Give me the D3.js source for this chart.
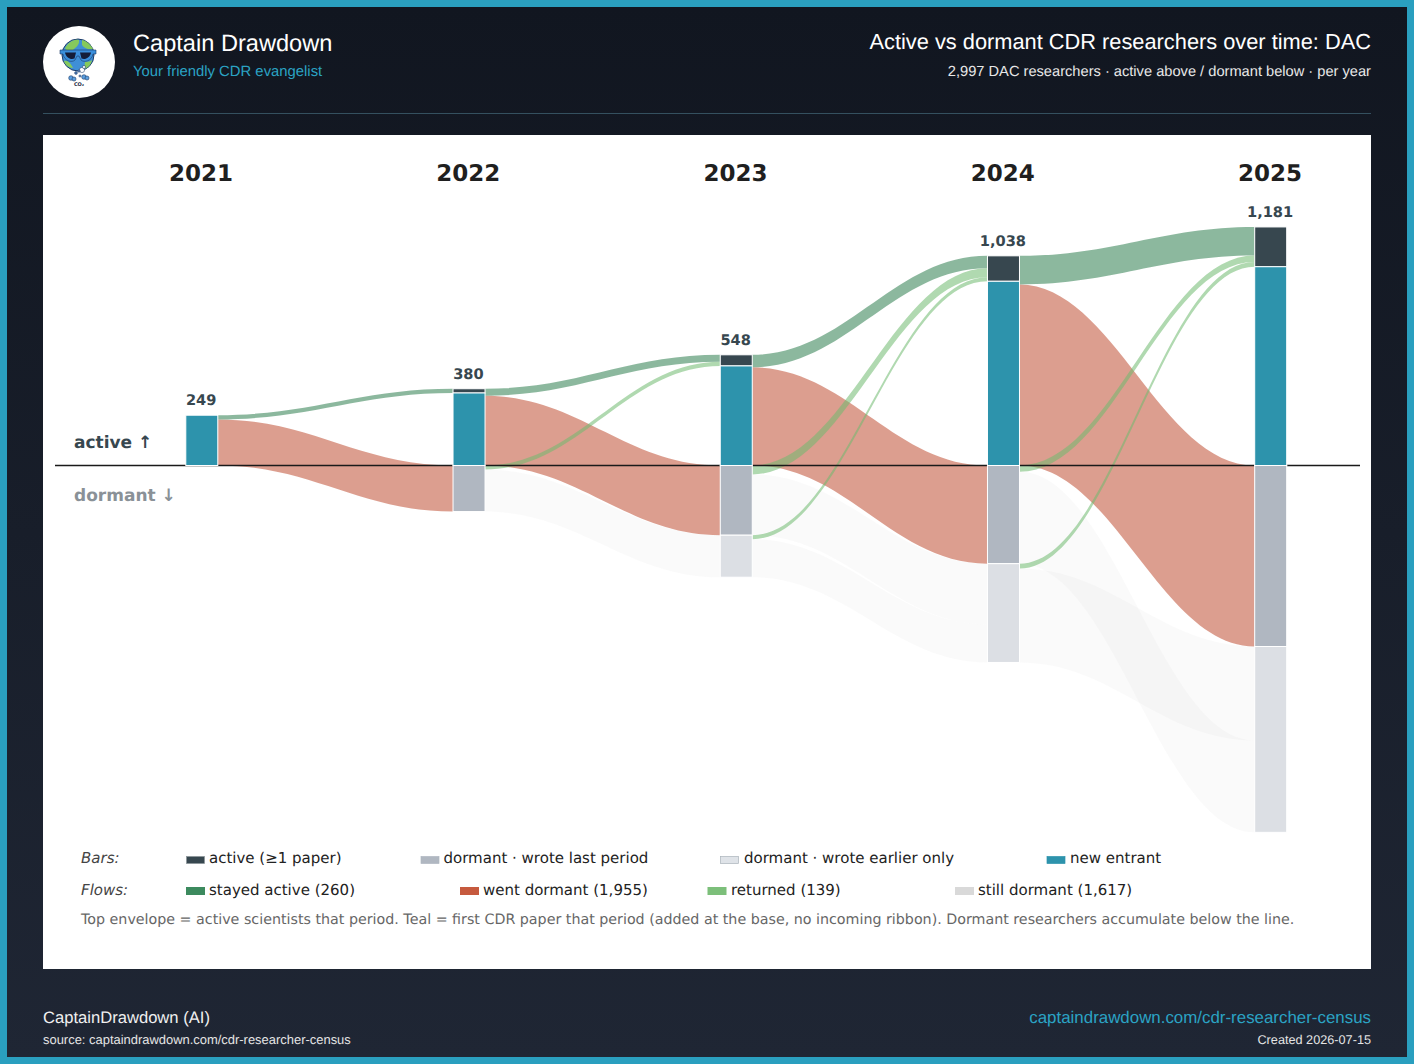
<!DOCTYPE html>
<html>
<head>
<meta charset="utf-8">
<title>Active vs dormant CDR researchers over time: DAC</title>
<script src="https://cdn.jsdelivr.net/npm/d3@7"></script>
<style>
  html, body { margin: 0; padding: 0; background: #1f2533; }
  svg { display: block; }
  text { text-rendering: geometricPrecision; }
  .hd { font-family: "Liberation Sans", Arial, sans-serif; }
  .ch { font-family: "DejaVu Sans", sans-serif; }
</style>
</head>
<body>
<svg id="chart" width="1414" height="1064"></svg>
<script>
// Researcher counts per year
const years = ["2021", "2022", "2023", "2024", "2025"];
const newEntrants = [249, 359, 493, 912, 984];
const activeTotals = [249, 380, 548, 1038, 1181];
const dormantLast = [0, 228, 345, 486, 896];
const dormantEarlier = [0, 0, 208, 489, 920];

// Flows between consecutive years (index 0 = 2021 to 2022)
const stayedActive = [21, 35, 62, 142];
const wentDormant = [228, 345, 486, 896];
const returnedFromLast = [0, 20, 44, 31];
const returnedFromEarlier = [0, 0, 20, 24];
const stillFromLast = [0, 208, 301, 455];
const stillFromEarlier = [0, 0, 188, 465];
// 2024 to 2025 cohorts swap places in the stack; earlier years keep their order
const earlierFirst = [false, false, false, true];

const colors = {
  active: "#37474f", fresh: "#2d93ac", last: "#b0b7c1", earlier: "#dcdfe4",
  stayed: "#2e7d4f", dormant: "#bf4f33", returned: "#70b96f", still: "#c8c8c8"
};

const barLegend = [
  { label: "active (≥1 paper)", fill: "#37474f", stroke: "#8a9499", sx: 186, tx: 209 },
  { label: "dormant · wrote last period", fill: "#b0b7c1", stroke: "#b0b7c1", sx: 420.5, tx: 443.5 },
  { label: "dormant · wrote earlier only", fill: "#dfe3e8", stroke: "#aab2ba", sx: 720, tx: 744 },
  { label: "new entrant", fill: "#2d93ac", stroke: "#2d93ac", sx: 1046.5, tx: 1070 }
];
const flowLegend = [
  { label: "stayed active (260)", fill: "#3c8a5e", sx: 186, tx: 209 },
  { label: "went dormant (1,955)", fill: "#c65a3e", sx: 460, tx: 483 },
  { label: "returned (139)", fill: "#7cbf7a", sx: 707.5, tx: 731 },
  { label: "still dormant (1,617)", fill: "#d9d9d9", sx: 955, tx: 978 }
];

const svg = d3.select("#chart");
const defs = svg.append("defs");
const grad = defs.append("linearGradient").attr("id", "page").attr("x1", 0).attr("y1", 0).attr("x2", 0).attr("y2", 1);
grad.append("stop").attr("offset", 0).attr("stop-color", "#111620");
grad.append("stop").attr("offset", 1).attr("stop-color", "#1f2634");

// Page frame and white plotting card
svg.append("rect").attr("width", 1414).attr("height", 1064).attr("fill", "#2a9fbf");
svg.append("rect").attr("x", 7).attr("y", 7).attr("width", 1400).attr("height", 1050).attr("fill", "url(#page)");
svg.append("rect").attr("x", 43).attr("y", 135).attr("width", 1328).attr("height", 834).attr("fill", "#fff");
svg.append("line").attr("x1", 43).attr("x2", 1371).attr("y1", 113.5).attr("y2", 113.5)
  .attr("stroke", "#34505f").attr("stroke-width", 1);

// Logo: globe with sunglasses above a small CO2 puff
const logo = svg.append("g").attr("transform", "translate(79,62)");
logo.append("circle").attr("r", 36).attr("fill", "#fff");
logo.append("circle").attr("cx", -1).attr("cy", -7).attr("r", 16).attr("fill", "#3f8fd6").attr("stroke", "#1c3a66").attr("stroke-width", 1);
logo.append("path").attr("fill", "#86c95c")
  .attr("d", "M-14,-14 C-10,-21 -4,-23 0,-22 C1,-17 -4,-14 -6,-12 C-9,-11 -13,-11 -14,-14 Z M3,-22 C8,-21 12,-17 14,-13 C9,-12 5,-14 3,-17 Z M-15,-1 C-11,-2 -8,2 -6,6 C-10,6 -14,3 -15,-1 Z M6,0 C9,0 12,-1 13,-2 C12,3 9,6 5,7 Z");
logo.append("path").attr("fill", "#3a8fdc").attr("stroke", "#1c3a66").attr("stroke-width", 0.6)
  .attr("d", "M-19,-12 L17,-12 L17,-8 L14,-8 C13,-1 5,1 2,-2 L0,-6 L-2,-6 L-4,-2 C-7,1 -15,-1 -16,-8 L-19,-8 Z");
logo.append("path").attr("fill", "#141d38")
  .attr("d", "M-14,-9.5 L-3,-9.5 L-4.5,-3.5 C-8,-2 -13,-4 -14,-9.5 Z M1,-9.5 L12,-9.5 C11,-4 6,-2 2.5,-3.5 Z");
const rocket = [[3, 8, 2.6, "#fff"], [5, 5, 1.6, "#e8eef5"], [0, 9, 1.2, "#6f93c4"], [-3, 11, 1.4, "#4a78b0"], [1, 14, 1.1, "#6f93c4"]];
logo.selectAll("circle.trail").data(rocket).join("circle").attr("class", "trail")
  .attr("cx", d => d[0]).attr("cy", d => d[1]).attr("r", d => d[2])
  .attr("fill", d => d[3]).attr("stroke", "#1c3a66").attr("stroke-width", 0.5);
const puffs = [[-8, 16, 2.3], [-5, 17, 2], [5, 15, 2.3], [8, 16, 2]];
logo.selectAll("circle.puff").data(puffs).join("circle").attr("class", "puff")
  .attr("cx", d => d[0]).attr("cy", d => d[1]).attr("r", d => d[2])
  .attr("fill", "#5b9fe0").attr("stroke", "#1c3a66").attr("stroke-width", 0.6);
logo.append("text").attr("class", "ch").attr("y", 24).attr("text-anchor", "middle")
  .attr("font-size", 5).attr("font-weight", 700).attr("fill", "#1c2a44").text("CO₂");

// Header and footer text
function label(cls, x, y, size, fill, anchor, str) {
  return svg.append("text").attr("class", cls).attr("x", x).attr("y", y)
    .attr("font-size", size).attr("fill", fill).attr("text-anchor", anchor).text(str);
}
label("hd", 133, 50.5, 23.6, "#fff", "start", "Captain Drawdown");
label("hd", 133, 76, 14.85, "#2ba3c4", "start", "Your friendly CDR evangelist");
label("hd", 1371, 48.5, 21.8, "#fff", "end", "Active vs dormant CDR researchers over time: DAC");
label("hd", 1371, 76, 14.65, "#e8e8e8", "end", "2,997 DAC researchers · active above / dormant below · per year");
label("hd", 43, 1023, 16.6, "#f0f0f0", "start", "CaptainDrawdown (AI)");
label("hd", 43, 1044, 12.95, "#e4e4e4", "start", "source: captaindrawdown.com/cdr-researcher-census");
label("hd", 1371, 1023, 16.9, "#2ba3c4", "end", "captaindrawdown.com/cdr-researcher-census");
label("hd", 1371, 1044, 12.7, "#e4e4e4", "end", "Created 2026-07-15");

// Scales: counts run up from the zero line for active, down for dormant
const x = d3.scalePoint().domain(years).range([201.8, 1270.7]);
const pxPerPerson = 0.202;
const zeroY = 465.5;
const y = d3.scaleLinear().domain([0, 1181]).range([zeroY, zeroY - 1181 * pxPerPerson]);
const barW = 32;
const bend = 0.4;

// Vertical extents of each bar segment
const stacks = years.map((yr, i) => ({
  yr, i,
  active: [activeTotals[i], newEntrants[i]],
  fresh: [newEntrants[i], 0],
  last: [0, -dormantLast[i]],
  earlier: [-dormantLast[i], -dormantLast[i] - dormantEarlier[i]]
}));

// Ribbon with horizontal tangents at both ends
function ribbon(i, s0, s1, t0, t1) {
  const a = x(years[i]) + barW / 2, b = x(years[i + 1]) - barW / 2;
  const c1 = a + (b - a) * bend, c2 = b - (b - a) * bend;
  const p = d3.path();
  p.moveTo(a, y(s0));
  p.bezierCurveTo(c1, y(s0), c2, y(t0), b, y(t0));
  p.lineTo(b, y(t1));
  p.bezierCurveTo(c2, y(t1), c1, y(s1), a, y(s1));
  p.closePath();
  return p.toString();
}

const flows = { still: [], dormant: [], stayed: [], returned: [] };
years.slice(0, -1).forEach((_, i) => {
  const top = activeTotals[i];
  const nextTop = activeTotals[i + 1];
  const j = i + 1;

  // Active in year i, active again next year
  flows.stayed.push(ribbon(i, top, top - stayedActive[i], nextTop, nextTop - stayedActive[i]));

  // Active in year i, gone quiet next year
  flows.dormant.push(ribbon(i, top - stayedActive[i], top - stayedActive[i] - wentDormant[i], 0, -wentDormant[i]));

  // Dormant cohorts coming back into the active block
  let tgt = nextTop - stayedActive[i];
  if (returnedFromLast[i] > 0) {
    flows.returned.push(ribbon(i, 0, -returnedFromLast[i], tgt, tgt - returnedFromLast[i]));
    tgt -= returnedFromLast[i];
  }
  if (returnedFromEarlier[i] > 0) {
    const s = -dormantLast[i];
    flows.returned.push(ribbon(i, s, s - returnedFromEarlier[i], tgt, tgt - returnedFromEarlier[i]));
  }

  // Dormant cohorts that remain dormant
  const base = -dormantLast[j];
  const lastTop = -returnedFromLast[i];
  const earlierTop = -dormantLast[i] - returnedFromEarlier[i];
  if (earlierFirst[i]) {
    flows.still.push(ribbon(i, earlierTop, earlierTop - stillFromEarlier[i], base, base - stillFromEarlier[i]));
    const b2 = base - stillFromEarlier[i];
    flows.still.push(ribbon(i, lastTop, lastTop - stillFromLast[i], b2, b2 - stillFromLast[i]));
  } else {
    if (stillFromLast[i] > 0) flows.still.push(ribbon(i, lastTop, lastTop - stillFromLast[i], base, base - stillFromLast[i]));
    const b2 = base - stillFromLast[i];
    if (stillFromEarlier[i] > 0) flows.still.push(ribbon(i, earlierTop, earlierTop - stillFromEarlier[i], b2, b2 - stillFromEarlier[i]));
  }
});

const flowStyle = [
  ["still", colors.still, 0.09],
  ["dormant", colors.dormant, 0.55],
  ["stayed", colors.stayed, 0.55],
  ["returned", colors.returned, 0.55]
];
flowStyle.forEach(([key, fill, op]) => {
  svg.append("g").selectAll("path").data(flows[key]).join("path")
    .attr("d", d => d).attr("fill", fill).attr("fill-opacity", op);
});

// Zero line between the active and dormant halves
svg.append("line").attr("x1", 55).attr("x2", 1360).attr("y1", zeroY).attr("y2", zeroY)
  .attr("stroke", "#1a1a1a").attr("stroke-width", 1.4);

// Bars
const segKeys = ["active", "fresh", "last", "earlier"];
const segGroups = svg.append("g").selectAll("g").data(stacks).join("g");
segGroups.selectAll("rect")
  .data(d => segKeys.map(k => ({ k, r: d[k], yr: d.yr })).filter(s => s.r[0] !== s.r[1]))
  .join("rect")
  .attr("x", d => x(d.yr) - barW / 2).attr("width", barW)
  .attr("y", d => y(d.r[0])).attr("height", d => y(d.r[1]) - y(d.r[0]))
  .attr("fill", d => colors[d.k]).attr("stroke", "#fff").attr("stroke-width", 1);

// Year headings and active totals
svg.append("g").selectAll("text").data(years).join("text").attr("class", "ch")
  .attr("x", d => x(d) - 0.7).attr("y", 181).attr("text-anchor", "middle")
  .attr("font-size", 23).attr("font-weight", 700).attr("fill", "#1f1f1f").text(d => d);
svg.append("g").selectAll("text").data(activeTotals).join("text").attr("class", "ch")
  .attr("x", (d, i) => x(years[i]) - 0.6).attr("y", d => y(d) - 10).attr("text-anchor", "middle")
  .attr("font-size", 14.6).attr("font-weight", 700).attr("fill", "#37474f").text(d3.format(","));

label("ch", 74, 448, 17, "#37474f", "start", "active ↑").attr("font-weight", 700);
label("ch", 74, 500.5, 17, "#8a9197", "start", "dormant ↓").attr("font-weight", 700);

// Legend rows
label("ch", 81, 863, 15, "#444", "start", "Bars:").attr("font-style", "italic");
label("ch", 81, 895, 15, "#444", "start", "Flows:").attr("font-style", "italic");
const bars = svg.append("g").selectAll("g").data(barLegend).join("g");
bars.append("rect").attr("x", d => d.sx + 0.5).attr("y", 856.5).attr("width", 18).attr("height", 7)
  .attr("fill", d => d.fill).attr("stroke", d => d.stroke).attr("stroke-width", 0.7);
bars.append("text").attr("class", "ch").attr("x", d => d.tx).attr("y", 863)
  .attr("font-size", 15).attr("fill", "#222").text(d => d.label);
const flowRows = svg.append("g").selectAll("g").data(flowLegend).join("g");
flowRows.append("rect").attr("x", d => d.sx).attr("y", 887).attr("width", 19).attr("height", 8).attr("fill", d => d.fill);
flowRows.append("text").attr("class", "ch").attr("x", d => d.tx).attr("y", 895)
  .attr("font-size", 15).attr("fill", "#222").text(d => d.label);
label("ch", 81, 924, 14.25, "#666", "start",
  "Top envelope = active scientists that period. Teal = first CDR paper that period (added at the base, no incoming ribbon). Dormant researchers accumulate below the line.");
</script>
</body>
</html>
